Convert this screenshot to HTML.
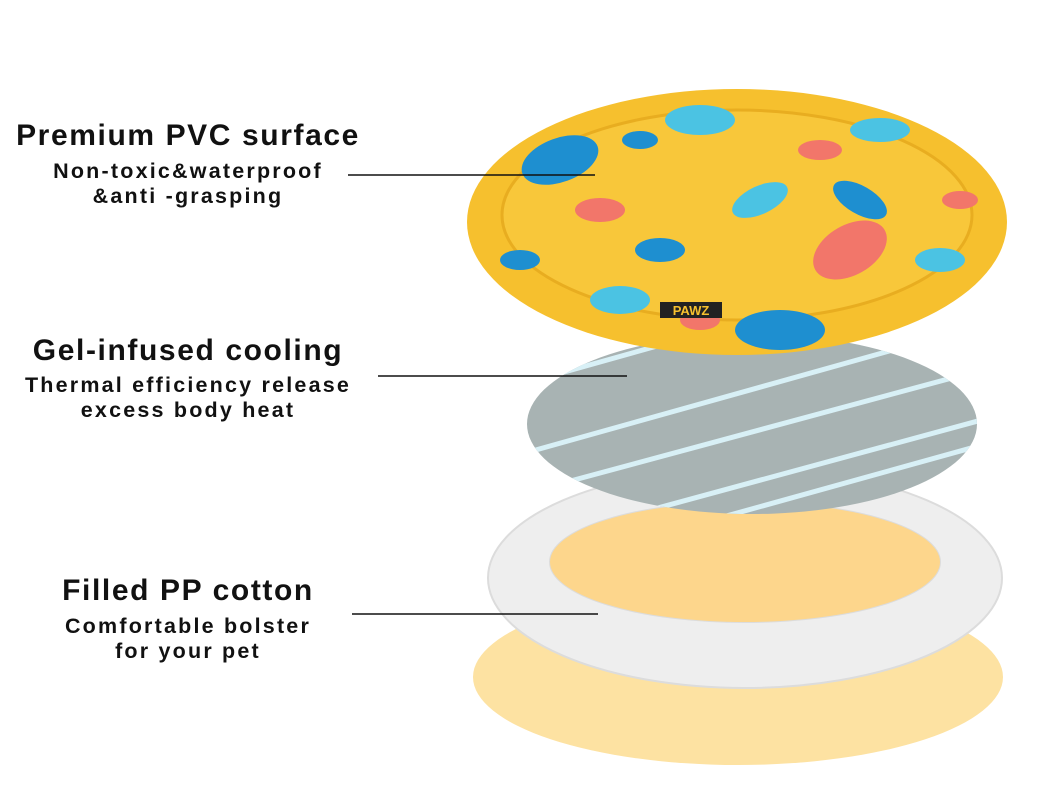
<!DOCTYPE html>
<html><head><meta charset="utf-8"><style>
html,body{margin:0;padding:0;background:#fff;}
body{width:1050px;height:800px;position:relative;overflow:hidden;font-family:"Liberation Sans",sans-serif;}
.t{position:absolute;width:400px;left:-12px;text-align:center;color:#111;white-space:nowrap;}
.h{font-weight:bold;font-size:30px;letter-spacing:1.6px;}
.s{font-weight:bold;font-size:21.5px;line-height:25px;letter-spacing:2.2px;}
</style></head><body>
<svg width="1050" height="800" style="position:absolute;left:0;top:0">
<defs>
<clipPath id="gc"><ellipse cx="752" cy="424" rx="225" ry="90"/></clipPath>
<clipPath id="bc"><ellipse cx="737" cy="222" rx="270" ry="133"/></clipPath>
</defs>
<ellipse cx="738" cy="677" rx="265" ry="88" fill="#fde2a2"/>
<path fill-rule="evenodd" fill="#eeeeee" stroke="#dcdcdc" stroke-width="2" d="M488,578 a257,110 0 1,0 514,0 a257,110 0 1,0 -514,0 Z M550,562 a195,60 0 1,0 390,0 a195,60 0 1,0 -390,0 Z"/>
<ellipse cx="745" cy="562" rx="195" ry="60" fill="#fdd68c"/>
<ellipse cx="752" cy="424" rx="225" ry="90" fill="#a8b3b3"/>
<g clip-path="url(#gc)" stroke="#d8f0f6" stroke-width="5">
<line x1="500" y1="390" x2="1000" y2="250"/>
<line x1="500" y1="460" x2="1000" y2="320"/>
<line x1="500" y1="500" x2="1000" y2="365"/>
<line x1="540" y1="540" x2="1000" y2="415"/>
<line x1="640" y1="540" x2="1000" y2="440"/>
</g>
<ellipse cx="737" cy="222" rx="270" ry="133" fill="#f6c02e"/>
<g clip-path="url(#bc)">
<ellipse cx="737" cy="215" rx="235" ry="105" fill="#f8c73a" stroke="#e8ad20" stroke-width="3"/>
<g fill="#1e8fd0"><ellipse cx="560" cy="160" rx="40" ry="22" transform="rotate(-20 560 160)"/><ellipse cx="780" cy="330" rx="45" ry="20"/><ellipse cx="660" cy="250" rx="25" ry="12"/><ellipse cx="860" cy="200" rx="30" ry="14" transform="rotate(30 860 200)"/><ellipse cx="640" cy="140" rx="18" ry="9"/><ellipse cx="520" cy="260" rx="20" ry="10"/></g>
<g fill="#4bc3e3"><ellipse cx="700" cy="120" rx="35" ry="15"/><ellipse cx="880" cy="130" rx="30" ry="12"/><ellipse cx="620" cy="300" rx="30" ry="14"/><ellipse cx="760" cy="200" rx="30" ry="14" transform="rotate(-25 760 200)"/><ellipse cx="940" cy="260" rx="25" ry="12"/></g>
<g fill="#f2766a"><ellipse cx="850" cy="250" rx="40" ry="25" transform="rotate(-30 850 250)"/><ellipse cx="600" cy="210" rx="25" ry="12"/><ellipse cx="820" cy="150" rx="22" ry="10"/><ellipse cx="700" cy="320" rx="20" ry="10"/><ellipse cx="960" cy="200" rx="18" ry="9"/></g>
<rect x="660" y="302" width="62" height="16" fill="#222"/>
<text x="691" y="315" font-size="13" font-weight="bold" fill="#f6c02e" text-anchor="middle" font-family="Liberation Sans,sans-serif">PAWZ</text>
</g>
<g stroke="#111" stroke-width="1.5">
<line x1="348" y1="175" x2="595" y2="175"/>
<line x1="378" y1="376" x2="627" y2="376"/>
<line x1="352" y1="614" x2="598" y2="614"/>
</g>
</svg>
<div class="t h" style="top:119px">Premium PVC surface</div>
<div class="t s" style="top:159px">Non-toxic&amp;waterproof<br>&amp;anti -grasping</div>
<div class="t h" style="top:334px">Gel-infused cooling</div>
<div class="t s" style="top:373px">Thermal efficiency release<br>excess body heat</div>
<div class="t h" style="top:574px">Filled PP cotton</div>
<div class="t s" style="top:614px">Comfortable bolster<br>for your pet</div>
</body></html>
